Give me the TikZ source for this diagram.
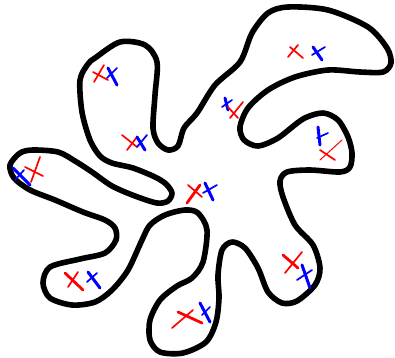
\documentclass[tikz,border=0pt]{standalone}
\begin{document}
\begin{tikzpicture}[x=1pt,y=-1pt,
  outline/.style={draw=black,line width=5.6pt,line join=round},
  rthin/.style={draw=red,line width=1.7pt,line cap=round},
  rthick/.style={draw=red,line width=2.8pt,line cap=round},
  bthin/.style={draw=blue,line width=1.7pt,line cap=round},
  bthick/.style={draw=blue,line width=3pt,line cap=round}]
\useasboundingbox (0,0) rectangle (395,357);
\draw[outline] plot[smooth cycle,tension=0.5] coordinates {
(95,58)(120,42)(145,45)(157,62)(155,95)(153,128)(158,143)(168,150)(178,146)(184,128)(197,113)(215,85)(240,62)(252,33)(268,13)(288,7)(328,10)(368,27)(387,48)(391,63)(383,72)(360,72)(328,70)(295,77)(268,90)(248,108)(240,127)(244,140)(258,146)(278,138)(303,119)(323,113)(338,120)(348,137)(352,153)(350,167)(340,172)(310,170)(287,172)(280,181)(283,197)(295,225)(313,245)(320,268)(315,285)(297,301)(282,303)(268,292)(258,268)(245,248)(232,242)(222,250)(218,275)(219,298)(216,322)(206,342)(183,353)(160,352)(150,340)(150,320)(160,300)(177,286)(192,278)(203,262)(207,230)(198,213)(185,210)(165,215)(150,225)(142,240)(128,270)(112,290)(95,302)(72,305)(50,298)(43,283)(50,267)(80,259)(105,253)(116,240)(115,228)(105,220)(83,212)(55,200)(30,190)(14,178)(10,165)(20,153)(33,150)(58,152)(75,161)(92,172)(112,186)(135,196)(157,203)(168,201)(172,193)(166,184)(155,177)(133,168)(112,163)(100,156)(90,140)(82,112)(80,80)(88,64)};
% 1 upper-left lobe top
\draw[rthin] (94,82) -- (104,65); \draw[rthin] (93,72) -- (108,80);
\draw[bthick] (108,68) -- (117,85); \draw[bthin] (107,78) -- (117,68);
% 2 upper-left lobe bottom
\draw[rthin] (122,135) -- (137,147); \draw[rthin] (127,150) -- (137,137);
\draw[bthick] (137,137) -- (145,150); \draw[bthin] (137,147) -- (147,135);
% 3 left arm
\draw[bthick] (13,168) -- (30,185); \draw[bthin] (15,180) -- (24,170);
\draw[rthin] (40,157) -- (31,182); \draw[rthin] (25,167) -- (43,176);
% 4 centre
\draw[rthick] (187,203) -- (200,185); \draw[rthin] (188,185) -- (202,197);
\draw[bthick] (205,183) -- (213,200); \draw[bthin] (203,193) -- (217,185);
% 5 top-right lobe
\draw[rthin] (290,47) -- (303,58); \draw[rthin] (288,57) -- (298,45);
\draw[bthick] (313,47) -- (322,60); \draw[bthin] (312,55) -- (325,47);
% 6 middle
\draw[bthick] (225,98) -- (228,110); \draw[bthin] (222,107) -- (232,100);
\draw[rthin] (228,107) -- (238,118); \draw[rthin] (230,118) -- (243,102);
% 7 right lobe
\draw[bthick] (318,127) -- (320,145); \draw[bthin] (317,138) -- (328,133);
\draw[rthin] (320,150) -- (335,160); \draw[rthin,line width=1pt] (320,160) -- (342,140);
% 8 lower-left lobe
\draw[rthick] (65,273) -- (83,290); \draw[rthin] (68,287) -- (78,272);
\draw[bthick] (88,272) -- (100,288); \draw[bthin] (87,282) -- (97,273);
% 9 lower lobe
\draw[rthin] (172,328) -- (193,310); \draw[rthick] (178,312) -- (202,323);
\draw[bthick] (200,303) -- (210,322); \draw[bthin] (202,315) -- (210,307);
% 10 lower-right lobe
\draw[rthick] (283,255) -- (298,268); \draw[rthin] (285,273) -- (302,252);
\draw[bthick] (302,265) -- (310,288); \draw[bthin] (297,280) -- (312,270);
\end{tikzpicture}
\end{document}
